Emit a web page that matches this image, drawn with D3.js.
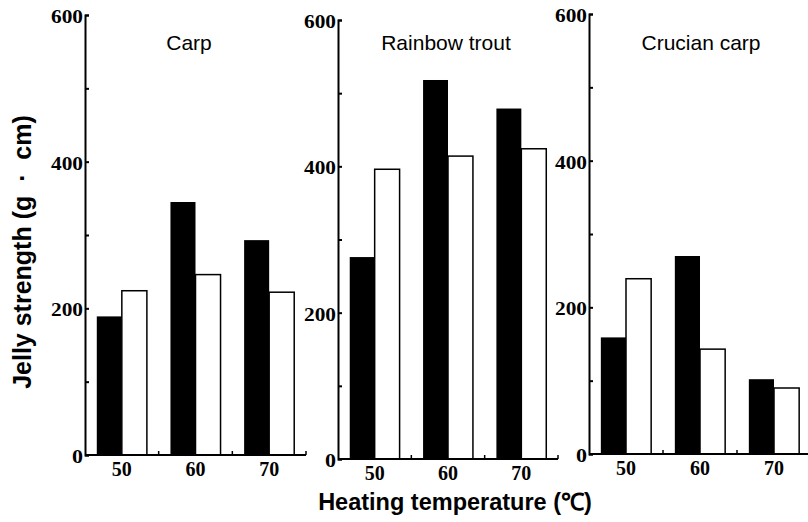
<!DOCTYPE html>
<html>
<head>
<meta charset="utf-8">
<script src="https://cdn.jsdelivr.net/npm/d3@7"></script>
<style>
  body { margin: 0; background: #fff; }
  svg { display: block; }
</style>
</head>
<body>
<svg id="chart"></svg>
<script>
// data
const temperatures = ["50", "60", "70"];
const species = ["Carp", "Rainbow trout", "Crucian carp"];
const filledBars = [
  [189, 345, 293],
  [276, 518, 479],
  [159, 270, 102],
];
const openBars = [
  [224, 246, 222],
  [396, 414, 424],
  [239, 143, 90],
];
const majorTicks = [0, 200, 400, 600];
const minorTicks = [100, 300, 500];

const width = 808;
const height = 522;
// panel frames (pixel layout)
const panels = [
  { left: 85, right: 306, top: 15, bottom: 455, titleX: 189 },
  { left: 338, right: 558, top: 20, bottom: 459, titleX: 446 },
  { left: 589, right: 811, top: 14, bottom: 454, titleX: 701 },
];

const serif = "'Liberation Serif', 'Times New Roman', serif";
const sans = "'Liberation Sans', Arial, sans-serif";

const svg = d3.select("#chart").attr("width", width).attr("height", height);

species.forEach((name, p) => {
  const frame = panels[p];
  const rows = temperatures.map((t, i) => ({
    temp: t,
    filled: filledBars[p][i],
    open: openBars[p][i],
  }));

  const x = d3
    .scaleBand()
    .domain(temperatures)
    .range([frame.left, frame.right])
    .paddingInner(0.32)
    .paddingOuter(0.16);
  const xs = d3
    .scaleBand()
    .domain(["filled", "open"])
    .range([0, x.bandwidth()]);
  const y = d3.scaleLinear().domain([0, 600]).range([frame.bottom, frame.top]);

  const g = svg.append("g");

  // bars
  const group = g
    .selectAll("g.cat")
    .data(rows)
    .join("g")
    .attr("class", "cat")
    .attr("transform", (d) => "translate(" + x(d.temp) + ",0)");

  group
    .append("rect")
    .attr("x", xs("filled"))
    .attr("y", (d) => y(d.filled))
    .attr("width", xs.bandwidth())
    .attr("height", (d) => y(0) - y(d.filled))
    .attr("fill", "#000");

  group
    .append("rect")
    .attr("x", xs("open"))
    .attr("y", (d) => y(d.open))
    .attr("width", xs.bandwidth())
    .attr("height", (d) => y(0) - y(d.open))
    .attr("fill", "#fff")
    .attr("stroke", "#000")
    .attr("stroke-width", 1.5);

  // y axis line + inward ticks
  g.append("g")
    .attr("transform", "translate(" + frame.left + ",0)")
    .call(
      d3
        .axisRight(y)
        .tickValues(majorTicks.concat(minorTicks))
        .tickSize(4)
        .tickSizeOuter(4)
        .tickFormat("")
    )
    .call((a) => a.selectAll("path,line").attr("stroke", "#000").attr("stroke-width", 2));

  // y labels
  g.append("g")
    .attr("transform", "translate(" + frame.left + ",0)")
    .call(d3.axisLeft(y).tickValues(majorTicks).tickSize(0).tickPadding(2))
    .call((a) => a.select(".domain").remove())
    .call((a) =>
      a
        .selectAll("text")
        .attr("dy", "0.42em")
        .attr("font-family", serif)
        .attr("font-weight", "bold")
        .attr("font-size", 18)
        .attr("fill", "#000")
        .attr("textLength", (d) => (d === 0 ? 11 : 32))
        .attr("lengthAdjust", "spacingAndGlyphs")
    );

  // x axis line with upward ticks at category boundaries
  const bounds = temperatures.map(
    (t) => x(t) + x.bandwidth() + (x.step() * x.paddingInner()) / 2
  );
  g.append("line")
    .attr("x1", frame.left)
    .attr("x2", d3.max(bounds))
    .attr("y1", y(0))
    .attr("y2", y(0))
    .attr("stroke", "#000")
    .attr("stroke-width", 2);
  g.selectAll("line.bound")
    .data(bounds)
    .join("line")
    .attr("class", "bound")
    .attr("x1", (d) => d)
    .attr("x2", (d) => d)
    .attr("y1", y(0))
    .attr("y2", y(0) - 4)
    .attr("stroke", "#000")
    .attr("stroke-width", 1.5);

  // x labels
  g.append("g")
    .attr("transform", "translate(0," + y(0) + ")")
    .call(d3.axisBottom(x).tickSize(0).tickPadding(7))
    .call((a) => a.select(".domain").remove())
    .call((a) =>
      a
        .selectAll("text")
        .attr("font-family", serif)
        .attr("font-weight", "bold")
        .attr("font-size", 20)
        .attr("fill", "#000")
    );

  // panel title
  g.append("text")
    .attr("x", frame.titleX)
    .attr("y", 50)
    .attr("text-anchor", "middle")
    .attr("font-family", sans)
    .attr("font-size", 21)
    .text(name);
});

svg
  .append("text")
  .attr("x", 455)
  .attr("y", 510)
  .attr("text-anchor", "middle")
  .attr("font-family", sans)
  .attr("font-weight", "bold")
  .attr("font-size", 23.5)
  .text("Heating temperature (℃)");

svg
  .append("text")
  .attr("transform", "translate(31,252) rotate(-90)")
  .attr("text-anchor", "middle")
  .attr("font-family", sans)
  .attr("font-weight", "bold")
  .attr("font-size", 25)
  .text("Jelly strength (g\u00a0\u00a0·\u00a0\u00a0cm)");
</script>
</body>
</html>
